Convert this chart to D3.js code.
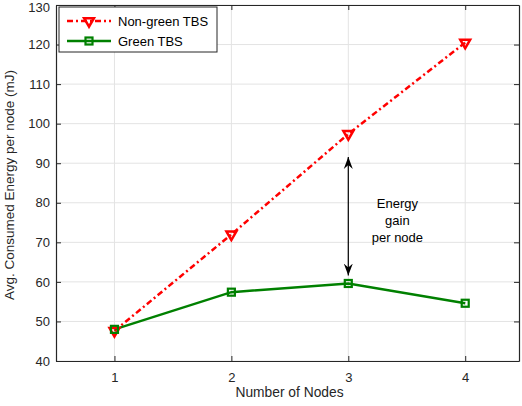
<!DOCTYPE html>
<html>
<head>
<meta charset="UTF-8" />
<script src="https://d3js.org/d3.v7.min.js"></script>
<style>
  body { margin: 0; background: #fff; }
  text { font-family: "Liberation Sans", Arial, sans-serif; }
</style>
</head>
<body>
<div id="chart"></div>
<script>
// data
var nodes = [1, 2, 3, 4];
var nonGreen = [47.6, 72.0, 97.4, 120.5];
var green = [48.0, 57.4, 59.6, 54.6];
var yTicks = [40, 50, 60, 70, 80, 90, 100, 110, 120, 130];
var gainArrow = [91.6, 61.6]; // at node 3
var gainText = ["Energy", "gain", "per node"];

var W = 522, H = 406;
var margin = { top: 5, right: 3, bottom: 45, left: 56 };
var width = W - margin.left - margin.right,
    height = H - margin.top - margin.bottom;

var svg = d3.select("#chart").append("svg")
  .attr("width", W).attr("height", H);

var g = svg.append("g")
  .attr("transform", "translate(" + margin.left + "," + margin.top + ")");

var x = d3.scaleLinear().domain([0.5, 4.46]).range([0, width]);
var y = d3.scaleLinear().domain([40, 130]).range([height, 0]);

// grid
g.append("g").selectAll("line").data(nodes).enter().append("line")
  .attr("x1", d => x(d)).attr("x2", d => x(d))
  .attr("y1", 0).attr("y2", height)
  .attr("stroke", "#e3e3e3").attr("stroke-width", 1);
g.append("g").selectAll("line").data(yTicks).enter().append("line")
  .attr("x1", 0).attr("x2", width)
  .attr("y1", d => y(d)).attr("y2", d => y(d))
  .attr("stroke", "#e3e3e3").attr("stroke-width", 1);

// axes
var axColor = "#262626";
var xAxis = g.append("g")
  .attr("transform", "translate(0," + height + ")")
  .call(d3.axisBottom(x).tickValues(nodes).tickFormat(d3.format("d")).tickSizeInner(-5).tickSizeOuter(0).tickPadding(12));
var yAxis = g.append("g")
  .call(d3.axisLeft(y).tickValues(yTicks).tickSizeInner(-5).tickSizeOuter(0).tickPadding(6));
var xTop = g.append("g")
  .call(d3.axisTop(x).tickValues(nodes).tickFormat("").tickSizeInner(-5).tickSizeOuter(0));
var yRight = g.append("g")
  .attr("transform", "translate(" + width + ",0)")
  .call(d3.axisRight(y).tickValues(yTicks).tickFormat("").tickSizeInner(-5).tickSizeOuter(0));

[xAxis, yAxis, xTop, yRight].forEach(function(a) {
  a.selectAll("path").attr("stroke", axColor).attr("stroke-width", 1.2);
  a.selectAll("line").attr("stroke", axColor);
  a.selectAll("text").attr("fill", axColor).style("font-size", "13px")
    .style("font-family", '"Liberation Sans", Arial, sans-serif');
});
// keep the top label inside the page
yAxis.selectAll(".tick text").filter(d => d == 130).attr("dy", "0.5em");

// labels
g.append("text")
  .attr("x", width / 2 + 2).attr("y", height + 36)
  .attr("text-anchor", "middle").attr("fill", axColor)
  .style("font-size", "13.8px")
  .text("Number of Nodes");
g.append("text")
  .attr("transform", "translate(" + (-42) + "," + (height / 2 + 2) + ")rotate(-90)")
  .attr("text-anchor", "middle").attr("fill", axColor)
  .style("font-size", "13.5px")
  .text("Avg. Consumed Energy per node (mJ)");

// lines
var line = d3.line().x((d, i) => x(nodes[i])).y(d => y(d));
var red = "#ff0000", grn = "#008000";

g.append("path").datum(nonGreen)
  .attr("d", line).attr("fill", "none")
  .attr("stroke", red).attr("stroke-width", 2.5)
  .attr("stroke-dasharray", "6,3,2,3");

g.append("path").datum(green)
  .attr("d", line).attr("fill", "none")
  .attr("stroke", grn).attr("stroke-width", 2.5);

var tri = d3.symbol().type(d3.symbolTriangle).size(42);
g.append("g").selectAll("path").data(nonGreen).enter().append("path")
  .attr("d", tri)
  .attr("transform", (d, i) => "translate(" + x(nodes[i]) + "," + y(d) + ")rotate(180)")
  .attr("fill", "none").attr("stroke", red).attr("stroke-width", 2.5);

g.append("g").selectAll("rect").data(green).enter().append("rect")
  .attr("x", (d, i) => x(nodes[i]) - 3.5).attr("y", d => y(d) - 3.5)
  .attr("width", 7).attr("height", 7)
  .attr("fill", "none").attr("stroke", grn).attr("stroke-width", 2.2);

// arrow
var defs = svg.append("defs");
defs.append("marker").attr("id", "ah")
  .attr("viewBox", "0 -5 12 10").attr("refX", 12).attr("refY", 0)
  .attr("markerWidth", 12).attr("markerHeight", 10)
  .attr("markerUnits", "userSpaceOnUse")
  .attr("orient", "auto-start-reverse")
  .append("path").attr("d", "M0,-4.5L12,0L0,4.5L4,0Z").attr("fill", "#000");

g.append("line")
  .attr("x1", x(3)).attr("x2", x(3))
  .attr("y1", y(gainArrow[0])).attr("y2", y(gainArrow[1]))
  .attr("stroke", "#000").attr("stroke-width", 1.2)
  .attr("marker-start", "url(#ah)").attr("marker-end", "url(#ah)");

g.append("g").selectAll("text").data(gainText).enter().append("text")
  .attr("x", x(3.42)).attr("y", (d, i) => y(78.6) + i * 17)
  .attr("text-anchor", "middle").attr("fill", "#000")
  .style("font-size", "13px")
  .text(d => d);

// legend
var leg = g.append("g").attr("transform", "translate(3,2)");
leg.append("rect").attr("width", 158).attr("height", 45)
  .attr("fill", "#fff").attr("stroke", "#262626").attr("stroke-width", 1);

var legItems = [
  { name: "Non-green TBS", color: red, dash: "6,3,2,3", mark: "tri" },
  { name: "Green TBS", color: grn, dash: null, mark: "sq" }
];
legItems.forEach(function(it, i) {
  var ly = 14 + i * 20;
  leg.append("line").attr("x1", 8).attr("x2", 52).attr("y1", ly).attr("y2", ly)
    .attr("stroke", it.color).attr("stroke-width", 2.5)
    .attr("stroke-dasharray", it.dash);
  if (it.mark == "tri") {
    leg.append("path").attr("d", tri)
      .attr("transform", "translate(30," + ly + ")rotate(180)")
      .attr("fill", "none").attr("stroke", it.color).attr("stroke-width", 2.5);
  } else {
    leg.append("rect").attr("x", 26.5).attr("y", ly - 3.5).attr("width", 7).attr("height", 7)
      .attr("fill", "none").attr("stroke", it.color).attr("stroke-width", 2.2);
  }
  leg.append("text").attr("x", 59).attr("y", ly + 4.5)
    .attr("fill", "#000").style("font-size", "13px").text(it.name);
});
</script>
</body>
</html>
